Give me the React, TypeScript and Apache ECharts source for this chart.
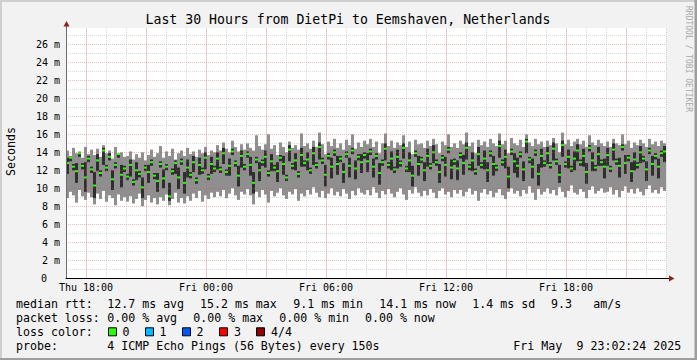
import React, { useEffect, useRef } from 'react';
import * as echarts from 'echarts';

// ---------- data ----------
const TITLE = 'Last 30 Hours from DietPi to Eemshaven, Netherlands';
const START_HOUR = -1; // hours relative to Thu 18:00 (first sample)
const STEP_HOURS = 0.15; // 9 minutes per column
const X_TICK_HOURS = [0, 6, 12, 18, 24];
const X_TICK_LABELS = ['Thu 18:00', 'Fri 00:00', 'Fri 06:00', 'Fri 12:00', 'Fri 18:00'];
const X_MAJOR_GRID_HOURS = [0, 3, 6, 9, 12, 15, 18, 21, 24, 27];
const Y_TICK_VALUES = [0, 2, 4, 6, 8, 10, 12, 14, 16, 18, 20, 22, 24, 26];
const Y_TICK_LABELS = ['0', '2 m', '4 m', '6 m', '8 m', '10 m', '12 m', '14 m', '16 m', '18 m', '20 m', '22 m', '24 m', '26 m'];

// smoke: light band (min..max ping), dark band (2nd..3rd ping), median (ms)
const PING_MAX = [
  14.2, 13.6, 14.5, 13.9, 14.1, 13.4, 14.6, 13.8, 14.3, 13.7,
  14.4, 13.5, 14.8, 13.9, 14.2, 13.3, 14.6, 13.8, 14.0, 13.5,
  13.6, 14.1, 13.2, 13.8, 13.4, 14.0, 13.1, 13.7, 14.3, 13.5,
  13.9, 14.7, 13.4, 14.1, 13.6, 14.4, 13.2, 13.9, 14.2, 13.6,
  14.5, 13.8, 14.1, 13.5, 14.3, 13.9, 14.6, 13.7, 14.2, 14.0,
  14.8, 14.2, 15.1, 14.4, 14.0, 15.3, 14.6, 14.1, 14.9, 14.3,
  15.0, 14.5, 14.2, 15.9, 14.7, 14.3, 14.9, 16.0, 14.4, 14.8,
  13.7, 15.1, 14.6, 14.0, 15.2, 14.5, 14.8, 14.3, 16.1, 14.7,
  15.0, 14.4, 15.3, 14.6, 16.2, 14.9, 13.8, 15.2, 14.7, 15.5,
  14.5, 15.0, 14.3, 15.4, 14.8, 16.0, 14.4, 15.1, 14.6, 15.3,
  14.9, 15.5, 14.6, 15.2, 13.9, 15.0, 16.1, 14.7, 15.3, 14.5,
  15.1, 14.8, 15.9, 14.6, 15.2, 13.8, 15.4, 14.9, 15.0, 14.5,
  15.3, 14.7, 15.5, 14.9, 13.9, 15.2, 14.8, 16.0, 14.6, 15.0,
  14.5, 15.3, 14.9, 16.2, 14.7, 15.1, 13.9, 15.4, 14.8, 15.2,
  14.6, 15.5, 15.0, 14.7, 16.1, 14.9, 15.3, 13.9, 15.6, 15.0,
  14.8, 15.4, 14.6, 16.0, 15.1, 14.7, 15.5, 14.9, 15.2, 14.6,
  15.3, 14.8, 15.6, 15.0, 14.0, 16.2, 14.9, 15.4, 14.7, 15.2,
  15.5, 14.9, 15.3, 14.6, 15.9, 15.1, 14.8, 15.4, 15.0, 14.7,
  15.2, 14.6, 15.5, 15.0, 14.8, 16.0, 14.9, 15.3, 14.5, 15.1,
  14.8, 15.4, 15.0, 14.6, 15.5, 14.9, 15.2, 14.7, 15.3, 15.0,
];
const PING_Q3 = [
  13.4, 13.5, 12.7, 12.8, 14.0, 12.8, 12.9, 13.6, 12.4, 11.8,
  13.8, 12.0, 14.5, 12.6, 13.9, 12.0, 12.9, 13.8, 12.6, 12.5,
  11.6, 13.2, 11.0, 12.9, 11.9, 11.2, 12.6, 12.6, 13.2, 11.7,
  11.7, 13.0, 12.1, 12.7, 10.6, 12.2, 13.1, 12.3, 13.3, 11.8,
  13.2, 11.8, 13.6, 11.2, 13.4, 12.3, 14.0, 11.6, 13.5, 12.5,
  14.0, 12.4, 14.5, 12.1, 13.3, 14.4, 13.1, 12.5, 14.2, 12.7,
  14.1, 13.5, 11.8, 13.5, 12.9, 13.2, 14.2, 12.0, 13.8, 12.6,
  12.9, 13.7, 13.6, 11.5, 14.8, 12.8, 13.9, 11.9, 14.5, 13.1,
  14.0, 12.3, 14.6, 12.9, 15.1, 13.4, 12.6, 13.9, 13.4, 14.3,
  13.6, 13.6, 12.8, 14.1, 13.4, 14.5, 13.1, 13.8, 13.8, 14.0,
  13.9, 14.4, 13.3, 13.9, 12.8, 13.2, 15.0, 12.9, 14.1, 12.4,
  14.3, 13.1, 15.0, 12.5, 14.0, 12.5, 14.2, 13.6, 13.5, 12.9,
  14.4, 12.8, 14.8, 13.2, 12.7, 13.7, 13.5, 14.6, 13.2, 13.3,
  13.1, 14.0, 13.7, 15.1, 12.7, 14.0, 12.2, 14.6, 12.9, 14.2,
  12.9, 14.2, 13.6, 12.6, 15.3, 13.2, 14.3, 12.4, 14.4, 13.9,
  13.4, 14.1, 13.0, 15.5, 13.5, 13.3, 14.3, 12.7, 14.4, 13.1,
  14.6, 12.9, 15.1, 13.3, 12.6, 15.3, 13.0, 14.3, 12.5, 14.1,
  14.9, 13.2, 14.4, 12.8, 14.8, 14.0, 12.6, 14.6, 13.2, 13.3,
  14.5, 12.5, 15.0, 13.3, 13.4, 14.9, 13.7, 13.7, 12.9, 14.0,
  12.9, 14.7, 13.6, 13.0, 14.5, 13.6, 13.9, 13.3, 14.2, 14.7,
];
const MEDIAN = [
  12.8, 13.4, 12.4, 11.9, 13.9, 12.5, 11.2, 13.3, 12.1, 10.3,
  13.1, 11.7, 14.2, 12.3, 13.5, 11.0, 12.6, 13.8, 11.5, 12.2,
  11.3, 12.6, 10.7, 12.0, 11.6, 10.1, 12.3, 11.8, 12.9, 11.4,
  10.8, 12.7, 11.1, 12.4, 9.1, 11.9, 12.8, 11.2, 13.0, 10.6,
  12.3, 11.5, 12.9, 10.9, 12.6, 12.0, 13.4, 11.3, 12.7, 12.2,
  13.3, 12.1, 13.9, 11.8, 12.5, 14.1, 12.8, 11.4, 13.6, 12.4,
  13.8, 12.6, 10.6, 13.2, 12.0, 12.9, 13.5, 11.7, 13.0, 12.3,
  11.9, 13.4, 12.7, 11.2, 14.3, 12.5, 13.1, 11.6, 13.7, 12.8,
  13.2, 12.0, 13.9, 12.6, 14.6, 13.1, 11.5, 13.6, 12.4, 14.0,
  12.7, 13.3, 11.8, 13.8, 12.5, 14.2, 12.2, 13.5, 12.9, 13.7,
  13.0, 14.1, 12.4, 13.6, 11.7, 12.9, 14.4, 12.6, 13.3, 12.1,
  13.5, 12.8, 14.5, 12.2, 13.1, 11.4, 13.9, 12.7, 13.2, 12.0,
  13.6, 12.5, 14.0, 12.9, 11.8, 13.4, 12.6, 14.3, 12.3, 13.0,
  12.2, 13.7, 12.8, 14.5, 12.4, 13.1, 11.9, 13.8, 12.6, 13.3,
  12.0, 13.9, 12.7, 12.3, 14.7, 12.9, 13.5, 11.3, 14.1, 13.0,
  12.5, 13.8, 12.1, 15.2, 13.2, 12.4, 14.0, 11.6, 13.6, 12.8,
  13.9, 12.6, 14.4, 13.0, 11.5, 14.8, 12.7, 13.5, 12.2, 13.3,
  14.2, 12.9, 13.6, 11.8, 14.5, 13.1, 12.3, 13.8, 12.9, 12.4,
  13.7, 12.2, 14.3, 13.0, 12.5, 14.6, 12.8, 13.4, 11.9, 13.2,
  12.6, 14.0, 13.3, 12.1, 14.2, 12.7, 13.6, 12.4, 13.9, 14.1,
];
const PING_Q1 = [
  11.6, 13.0, 12.0, 10.6, 13.5, 12.1, 9.6, 12.9, 11.7, 8.9,
  11.9, 11.3, 12.6, 11.9, 13.1, 9.8, 12.2, 13.4, 10.1, 11.8,
  10.9, 11.3, 10.3, 10.9, 11.2, 8.9, 11.9, 10.6, 12.5, 11.0,
  9.6, 12.3, 10.0, 12.0, 8.6, 11.5, 11.6, 9.9, 12.6, 9.4,
  11.2, 11.1, 11.8, 10.5, 11.5, 11.6, 12.1, 10.9, 11.6, 11.8,
  12.1, 11.7, 12.7, 11.4, 11.4, 13.7, 12.4, 10.2, 12.3, 12.0,
  13.4, 11.4, 9.4, 12.8, 10.8, 12.5, 12.3, 11.3, 11.9, 11.9,
  10.7, 13.0, 11.5, 10.8, 13.0, 12.1, 12.0, 11.2, 12.4, 12.4,
  12.0, 11.6, 12.6, 12.2, 13.2, 12.7, 10.2, 13.2, 11.1, 13.6,
  11.5, 12.9, 10.6, 13.4, 11.2, 13.8, 11.0, 13.1, 11.7, 13.3,
  11.8, 13.7, 11.2, 13.2, 10.4, 12.5, 13.1, 12.2, 12.0, 11.7,
  12.2, 12.4, 13.3, 11.8, 11.8, 10.2, 13.5, 11.4, 12.8, 10.8,
  12.4, 12.1, 12.8, 12.5, 10.6, 13.0, 11.3, 13.9, 11.0, 12.6,
  10.9, 13.3, 11.5, 13.2, 12.0, 11.9, 11.5, 12.5, 12.2, 12.1,
  10.7, 13.5, 11.4, 11.9, 13.4, 12.5, 12.2, 10.0, 13.7, 11.7,
  11.2, 13.4, 10.8, 13.9, 12.8, 11.1, 13.6, 10.3, 12.3, 12.4,
  12.7, 12.2, 13.1, 12.6, 10.6, 13.5, 12.3, 12.2, 11.8, 12.0,
  13.0, 12.5, 12.4, 10.5, 14.1, 11.9, 11.9, 12.5, 12.5, 11.1,
  12.5, 11.8, 13.1, 12.6, 11.2, 14.2, 11.6, 13.0, 10.7, 12.0,
  12.2, 12.8, 12.9, 10.8, 13.8, 11.4, 13.2, 11.1, 13.5, 12.9,
];
const PING_MIN = [
  8.9, 9.6, 9.2, 8.4, 9.8, 9.1, 8.7, 9.5, 9.0, 8.2,
  9.4, 8.8, 9.7, 8.5, 9.2, 8.9, 8.1, 9.3, 8.6, 9.0,
  8.5, 9.1, 8.3, 8.8, 9.4, 8.0, 8.7, 9.2, 8.4, 8.9,
  8.2, 9.0, 8.6, 9.3, 8.1, 8.8, 9.5, 8.4, 8.9, 8.3,
  9.1, 8.6, 9.4, 8.9, 9.7, 8.5, 9.2, 8.8, 9.5, 9.0,
  9.6, 9.1, 9.8, 8.9, 9.4, 10.0, 9.2, 8.7, 9.6, 9.3,
  9.9, 9.2, 8.2, 9.6, 9.0, 9.8, 9.3, 8.4, 9.7, 9.1,
  9.5, 10.0, 9.2, 8.8, 9.6, 9.3, 9.9, 8.6, 9.4, 9.1,
  9.8, 9.3, 10.1, 9.5, 9.0, 9.7, 8.9, 9.4, 10.0, 9.2,
  9.6, 9.1, 9.9, 9.4, 8.8, 9.7, 9.2, 10.0, 9.5, 9.3,
  9.8, 9.2, 10.1, 9.5, 8.9, 9.7, 9.3, 9.9, 9.4, 9.0,
  9.6, 10.0, 9.3, 8.7, 9.8, 9.4, 10.1, 9.5, 9.1, 9.7,
  9.2, 9.9, 9.5, 8.9, 9.7, 10.0, 9.3, 9.6, 9.0, 9.8,
  9.4, 9.8, 9.1, 9.6, 10.0, 9.3, 9.7, 8.6, 9.5, 9.9,
  9.3, 9.7, 9.0, 9.5, 9.9, 9.2, 8.8, 9.6, 10.0, 9.4,
  9.7, 9.1, 9.8, 9.4, 10.2, 9.5, 8.7, 9.9, 9.3, 9.6,
  10.0, 9.4, 9.8, 9.2, 10.1, 9.6, 9.0, 9.7, 10.3, 9.5,
  9.3, 9.9, 9.6, 8.9, 9.8, 10.2, 9.4, 9.7, 10.0, 9.5,
  9.6, 10.1, 9.3, 9.8, 9.0, 9.7, 10.2, 9.5, 9.9, 9.4,
  10.0, 9.6, 9.2, 9.9, 10.3, 9.5, 9.8, 9.4, 10.1, 9.7,
];

// legend texts
const ROW_RTT = ['median rtt:', '12.7 ms avg', '15.2 ms max', '9.1 ms min', '14.1 ms now', '1.4 ms sd', '9.3', 'am/s'];
const ROW_LOSS = ['packet loss:', '0.00 % avg', '0.00 % max', '0.00 % min', '0.00 % now'];
const LOSS_LABEL = 'loss color:';
const LOSS_NAMES = ['0', '1', '2', '3', '4/4'];
const PROBE_ROW = ['probe:', '4 ICMP Echo Pings (56 Bytes) every 150s'];
const STAMP = ['Fri May', '9 23:02:24 2025'];
const Y_NAME = 'Seconds';
const WATERMARK = 'RRDTOOL / TOBI OETIKER';

// ---------- layout / styles ----------
const MONO = '"DejaVu Sans Mono", monospace';
const LOSS_COLORS = ['#26ff00', '#00b8ff', '#0059ff', '#ff0000', '#8f0000'];
const ROW_RTT_X = [16, 107.3, 200, 293.3, 379.3, 472.3, 551, 593.3];
const ROW_LOSS_X = [16, 107.3, 193.3, 279.3, 365];
const LOSS_BOX_X = [108, 145, 182, 219, 256];
const LOSS_NAME_X = [122.5, 159.5, 196.5, 234, 271];
const ROW_Y = [304.3, 318.3, 332.3, 346.3];
const HALF_PIXEL_HOURS = 0.025; // aligns mark lines with the crisp split lines

export default function App() {
  const ref = useRef<HTMLDivElement>(null);

  useEffect(() => {
    if (!ref.current) return;
    const chart = echarts.init(ref.current, undefined, { renderer: 'svg' });

    const data = MEDIAN.map((m, i) => [
      START_HOUR + i * STEP_HOURS,
      PING_MIN[i],
      PING_Q1[i],
      PING_Q3[i],
      PING_MAX[i],
      m,
    ]);

    const txt = (text: string, x: number, y: number, extra: any = {}) => ({
      type: 'text',
      x,
      y,
      z: 10,
      silent: true,
      style: {
        text,
        fill: '#000',
        fontFamily: MONO,
        fontSize: 11.6,
        textAlign: 'left',
        textVerticalAlign: 'middle',
        verticalAlign: 'middle',
        ...extra,
      },
    });

    const graphics: any[] = [
      // bevel border
      { type: 'rect', z: 10, silent: true, shape: { x: 0, y: 0, width: 697, height: 2 }, style: { fill: '#cfcfcf' } },
      { type: 'rect', z: 10, silent: true, shape: { x: 0, y: 0, width: 2, height: 360 }, style: { fill: '#cfcfcf' } },
      { type: 'rect', z: 10, silent: true, shape: { x: 0, y: 358, width: 697, height: 2 }, style: { fill: '#9e9e9e' } },
      { type: 'rect', z: 10, silent: true, shape: { x: 694.5, y: 0, width: 2.5, height: 360 }, style: { fill: '#9e9e9e' } },
      // title
      txt(TITLE, 348, 19, { fontSize: 13.2, textAlign: 'center' }),
      // y name
      { ...txt(Y_NAME, 11, 151.5, { textAlign: 'center' }), rotation: Math.PI / 2 },
      // watermark
      { ...txt(WATERMARK, 688, 59, { textAlign: 'center', fontSize: 8, fill: '#a8a8a8' }), rotation: -Math.PI / 2 },
      // axis arrows
      { type: 'line', z: 10, silent: true, shape: { x1: 66.5, y1: 28, x2: 66.5, y2: 25 }, style: { stroke: '#666', lineWidth: 1 } },
      { type: 'polygon', z: 10, silent: true, shape: { points: [[63.5, 26.5], [66.5, 21], [69.5, 26.5]] }, style: { fill: '#9a1a1a' } },
      { type: 'line', z: 10, silent: true, shape: { x1: 666, y1: 278.5, x2: 670, y2: 278.5 }, style: { stroke: '#000', lineWidth: 1 } },
      { type: 'polygon', z: 10, silent: true, shape: { points: [[669, 275.5], [674.5, 278.5], [669, 281.5]] }, style: { fill: '#9a1a1a' } },
    ];

    ROW_RTT.forEach((t, i) => graphics.push(txt(t, ROW_RTT_X[i], ROW_Y[0])));
    ROW_LOSS.forEach((t, i) => graphics.push(txt(t, ROW_LOSS_X[i], ROW_Y[1])));
    graphics.push(txt(LOSS_LABEL, 16, ROW_Y[2]));
    LOSS_NAMES.forEach((t, i) => {
      graphics.push({
        type: 'rect',
        z: 10,
        silent: true,
        shape: { x: LOSS_BOX_X[i] + 0.5, y: ROW_Y[2] - 4.5, width: 8, height: 8 },
        style: { fill: LOSS_COLORS[i], stroke: '#000', lineWidth: 1 },
      });
      graphics.push(txt(t, LOSS_NAME_X[i], ROW_Y[2]));
    });
    graphics.push(txt(PROBE_ROW[0], 16, ROW_Y[3]));
    graphics.push(txt(PROBE_ROW[1], 107.3, ROW_Y[3]));
    graphics.push(txt(STAMP[0], 513.3, ROW_Y[3]));
    graphics.push(txt(STAMP[1], 576.5, ROW_Y[3]));

    const minorGrid = 'rgba(143,143,143,0.32)';
    const majorGrid = 'rgba(222,80,80,0.38)';

    chart.setOption({
      animation: false,
      backgroundColor: '#f2f2f2',
      grid: {
        left: 66,
        right: 31,
        top: 28,
        bottom: 82,
        show: true,
        backgroundColor: '#ffffff',
        borderWidth: 0,
        containLabel: false,
      },
      xAxis: {
        type: 'value',
        min: -1,
        max: 29,
        interval: 1,
        z: 4,
        axisLine: { show: true, onZero: false, lineStyle: { color: '#000', width: 1 } },
        axisTick: { show: false },
        axisLabel: {
          showMinLabel: false,
          showMaxLabel: false,
          margin: 4,
          fontFamily: MONO,
          fontSize: 10,
          color: '#000',
          formatter: (v: number) => {
            const r = Math.round(v);
            const k = X_TICK_HOURS.indexOf(r);
            return k >= 0 && Math.abs(v - r) < 1e-6 ? X_TICK_LABELS[k] : '';
          },
        },
        splitLine: {
          show: true,
          lineStyle: { color: minorGrid, type: [1, 1], width: 1 },
        },
      },
      yAxis: {
        type: 'value',
        min: 0,
        max: 27.85,
        interval: 2,
        z: 3,
        axisLine: { show: true, onZero: false, lineStyle: { color: '#666', width: 1 } },
        axisTick: { show: false },
        minorTick: { show: false, splitNumber: 2 },
        minorSplitLine: { show: true, lineStyle: { color: minorGrid, type: [1, 1], width: 1 } },
        axisLabel: {
          showMaxLabel: false,
          margin: 6,
          fontFamily: MONO,
          fontSize: 10,
          color: '#000',
          formatter: (v: number) => {
            const r = Math.round(v);
            const k = Y_TICK_VALUES.indexOf(r);
            if (k < 0 || Math.abs(v - r) > 1e-6) return '';
            return k === 0 ? '{z|' + Y_TICK_LABELS[k] + '}' : Y_TICK_LABELS[k];
          },
          rich: { z: { fontFamily: MONO, fontSize: 10, color: '#000', padding: [0, 13, 0, 0] } },
        },
        splitLine: {
          show: true,
          showMinLine: false,
          showMaxLine: false,
          lineStyle: { color: majorGrid, type: [1, 1], width: 1 },
        },
      },
      series: [
        {
          type: 'custom',
          z: 2,
          clip: true,
          silent: true,
          encode: { x: 0, y: [1, 4] },
          data,
          renderItem: (params: any, api: any) => {
            const x = api.value(0);
            const pLo = api.coord([x, api.value(1)]);
            const pQ1 = api.coord([x, api.value(2)]);
            const pQ3 = api.coord([x, api.value(3)]);
            const pHi = api.coord([x, api.value(4)]);
            const pMd = api.coord([x, api.value(5)]);
            const w = api.size([STEP_HOURS, 0])[0];
            return {
              type: 'group',
              children: [
                { type: 'rect', shape: { x: pLo[0], y: pHi[1], width: w, height: pLo[1] - pHi[1] }, style: { fill: '#8f8f8f' } },
                { type: 'rect', shape: { x: pQ1[0], y: pQ3[1], width: w, height: pQ1[1] - pQ3[1] }, style: { fill: '#2e2e2e' } },
                { type: 'rect', shape: { x: pMd[0], y: pMd[1] - 1, width: w, height: 2 }, style: { fill: LOSS_COLORS[0] } },
              ],
            };
          },
          markLine: {
            silent: true,
            symbol: 'none',
            z: 5,
            label: { show: false },
            lineStyle: { color: majorGrid, type: [1, 1], width: 1 },
            data: X_MAJOR_GRID_HOURS.map((h) => ({ xAxis: h + HALF_PIXEL_HOURS })),
          },
        },
      ],
      graphic: graphics,
    });

    return () => chart.dispose();
  }, []);

  return <div ref={ref} style={{ position: 'absolute', left: 0, top: 0, width: 697, height: 360 }} />;
}
